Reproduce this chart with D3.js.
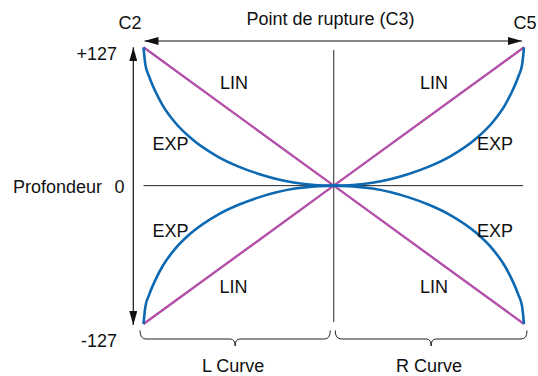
<!DOCTYPE html>
<html>
<head>
<meta charset="utf-8">
<script src="https://cdn.jsdelivr.net/npm/d3@7"></script>
<style>
  body { margin: 0; background: #fff; }
  svg text { font-family: "Liberation Sans", Arial, Helvetica, sans-serif; font-size: 18px; fill: #111; }
</style>
</head>
<body>
<script>
// note positions on the key range (C2 left, break point C3 in the middle, C5 right)
let keyPos = [-1, 0, 1];
let keyNames = ['C2', 'C3', 'C5'];
let depthTicks = [127, 0, -127];
let depthLabels = ['+127', '0', '-127'];

// EXP curve, upper left quarter (pos, depth)
let expPos = [-1, -0.99, -0.97, -0.936, -0.9, -0.834, -0.75, -0.608, -0.5, -0.398, -0.204, -0.1, 0];
let expDepth = [127, 111, 100, 86, 74, 58, 43.5, 26.5, 17.5, 11, 2.7, 0.65, 0];

// LIN lines
let linPos = [-1, 0, 1];
let linDown = [127, 0, -127];
let linUp = [-127, 0, 127];

let width = 538, height = 376;

const svg = d3.select('body').append('svg').attr('width', width).attr('height', height);

let x = d3.scaleLinear().domain([-1, 1]).range([143.5, 524]);
let y = d3.scaleLinear().domain([-127, 127]).range([324, 47.3]);

// arrow heads
let defs = svg.append('defs');
defs.append('marker').attr('id', 'arr').attr('viewBox', '0 0 14 8').attr('refX', 14).attr('refY', 4)
  .attr('markerWidth', 14).attr('markerHeight', 8).attr('markerUnits', 'userSpaceOnUse').attr('orient', 'auto-start-reverse')
  .append('path').attr('d', 'M0,0 L14,4 L0,8 Z').attr('fill', '#111');

// top arrow C2 <-> C5
svg.append('line').attr('x1', x(-1) + 1).attr('x2', x(1) - 2).attr('y1', 41).attr('y2', 41)
  .attr('stroke', '#111').attr('stroke-width', 1.2)
  .attr('marker-start', 'url(#arr)').attr('marker-end', 'url(#arr)');

// left arrow +127 <-> -127
svg.append('line').attr('x1', 133.3).attr('x2', 133.3).attr('y1', y(127)).attr('y2', y(-127) + 1)
  .attr('stroke', '#111').attr('stroke-width', 1.2)
  .attr('marker-start', 'url(#arr)').attr('marker-end', 'url(#arr)');

// zero line and break point line
svg.append('line').attr('x1', x(-1)).attr('x2', x(1) - 1).attr('y1', y(0)).attr('y2', y(0))
  .attr('stroke', '#222').attr('stroke-width', 1);
svg.append('line').attr('x1', x(0)).attr('x2', x(0)).attr('y1', 50).attr('y2', 322)
  .attr('stroke', '#222').attr('stroke-width', 1);

// LIN
let lin = d3.line().x(d => x(d[0])).y(d => y(d[1]));
[linDown, linUp].forEach(vals => {
  svg.append('path').attr('d', lin(d3.zip(linPos, vals)))
    .attr('fill', 'none').attr('stroke', '#b24fa8').attr('stroke-width', 2.4);
});

// EXP, the four quarters are mirror images of the read quarter
let exp = d3.line().x(d => x(d[0])).y(d => y(d[1])).curve(d3.curveMonotoneX);
let quarter = d3.zip(expPos, expDepth);
[[1, 1], [1, -1], [-1, 1], [-1, -1]].forEach(([sx, sy]) => {
  let pts = quarter.map(d => [d[0] * sx, d[1] * sy]).sort((a, b) => a[0] - b[0]);
  svg.append('path').attr('d', exp(pts))
    .attr('fill', 'none').attr('stroke', '#0c69b2').attr('stroke-width', 2.6);
});

// braces under the chart
const brace = (x0, x1, yTop) => {
  let m = (x0 + x1) / 2, yl = yTop + 8.5;
  return 'M' + x0 + ',' + yTop + ' Q' + x0 + ',' + yl + ' ' + (x0 + 6) + ',' + yl +
    ' L' + (m - 5) + ',' + yl + ' Q' + m + ',' + yl + ' ' + m + ',' + (yl + 7) +
    ' Q' + m + ',' + yl + ' ' + (m + 5) + ',' + yl +
    ' L' + (x1 - 6) + ',' + yl + ' Q' + x1 + ',' + yl + ' ' + x1 + ',' + yTop;
};
let braces = [[x(-1) - 3.5, x(0) - 3.5, 'L Curve'], [x(0) + 1.5, x(1) + 3, 'R Curve']];
braces.forEach(b => {
  svg.append('path').attr('d', brace(b[0], b[1], 330.5)).attr('fill', 'none').attr('stroke', '#222').attr('stroke-width', 1);
  svg.append('text').attr('x', (b[0] + b[1]) / 2 - 2).attr('y', 372).attr('text-anchor', 'middle').text(b[2]);
});

// key names
svg.append('text').attr('x', 130).attr('y', 28.5).attr('text-anchor', 'middle').text(keyNames[0]);
svg.append('text').attr('x', 525).attr('y', 28.5).attr('text-anchor', 'middle').text(keyNames[2]);
svg.append('text').attr('x', 330.5).attr('y', 25).attr('text-anchor', 'middle').text('Point de rupture (' + keyNames[1] + ')');

// depth labels
let depthY = [60, 192.5, 347];
depthTicks.forEach((t, i) => {
  svg.append('text').attr('x', i == 1 ? 124.5 : 117).attr('y', depthY[i]).attr('text-anchor', 'end').text(depthLabels[i]);
});
svg.append('text').attr('x', 13).attr('y', 192.5).text('Profondeur');

// curve names
let curveLabels = [
  ['LIN', 234, 89.3], ['EXP', 170.5, 150], ['LIN', 434, 89.3], ['EXP', 495, 150],
  ['EXP', 170.5, 236.7], ['LIN', 233.5, 293], ['EXP', 495, 236.7], ['LIN', 434, 293]
];
curveLabels.forEach(l => {
  svg.append('text').attr('x', l[1]).attr('y', l[2]).attr('text-anchor', 'middle').text(l[0]);
});
</script>
</body>
</html>
